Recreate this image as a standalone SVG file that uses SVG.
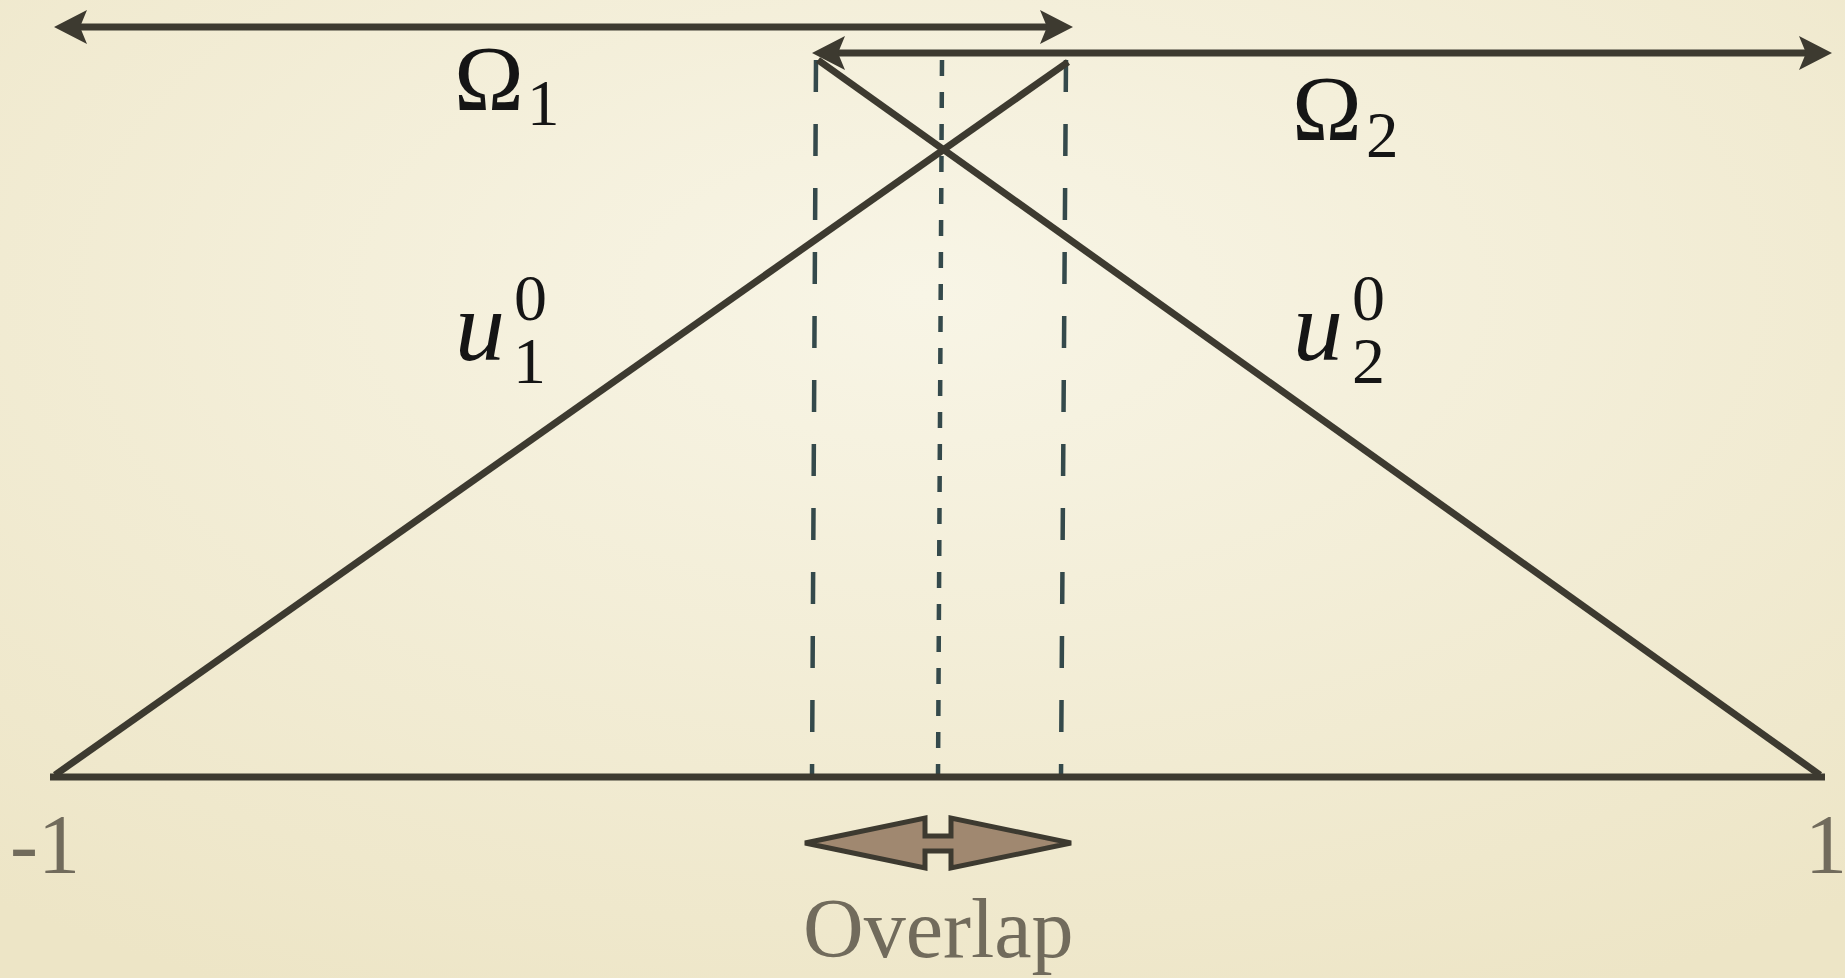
<svg xmlns="http://www.w3.org/2000/svg" width="1845" height="978" viewBox="0 0 1845 978">
<defs>
<radialGradient id="bg" cx="0.5" cy="0.3" r="0.8">
<stop offset="0" stop-color="#f8f5e6"/>
<stop offset="1" stop-color="#ede5c6"/>
</radialGradient>
<marker id="head" markerUnits="userSpaceOnUse" viewBox="-36 -19 38 38" markerWidth="38" markerHeight="38" refX="-22" refY="0" orient="auto-start-reverse">
<path d="M0,0 L-33,-17 L-26,0 L-33,17 Z" fill="#3d3a30"/>
</marker>
<style>
.ln{stroke:#3d3a30;stroke-width:7;fill:none}
.dl{stroke:#34494b;stroke-width:4.5;fill:none;stroke-dasharray:32 32}
.ds{stroke:#34494b;stroke-width:4.5;fill:none;stroke-dasharray:16 16}
.math{font-family:"Liberation Serif","DejaVu Serif",serif;fill:#151515}
.lab{font-family:"Liberation Serif","DejaVu Serif",serif;fill:#716b5c}
</style>
</defs>
<rect width="1845" height="978" fill="url(#bg)"/>
<g id="connectors">
<line class="dl" x1="816" y1="60" x2="812" y2="777"/>
<line class="ds" x1="942" y1="60" x2="938" y2="777"/>
<line class="dl" x1="1066" y1="60" x2="1061" y2="777"/>
<line class="ln" x1="76" y1="27" x2="1051" y2="27" marker-start="url(#head)" marker-end="url(#head)"/>
<line class="ln" x1="834" y1="53" x2="1810" y2="53" marker-start="url(#head)" marker-end="url(#head)"/>
<line class="ln" x1="55" y1="775" x2="1068" y2="62"/>
<line class="ln" x1="818" y1="60" x2="1820" y2="775"/>
<line class="ln" x1="50" y1="777" x2="1825" y2="777"/>
</g>
<g id="omega1"><text class="math" font-size="94" x="454" y="110">Ω<tspan font-size="65" x="527" y="125">1</tspan></text></g>
<g id="omega2"><text class="math" font-size="94" x="1292" y="140">Ω<tspan font-size="65" x="1366" y="157">2</tspan></text></g>
<g id="u1"><text class="math" font-size="100" font-style="italic" x="455" y="360">u<tspan font-style="normal" font-size="66" x="514" y="320">0</tspan><tspan font-style="normal" font-size="66" x="513" y="383">1</tspan></text></g>
<g id="u2"><text class="math" font-size="100" font-style="italic" x="1293" y="360">u<tspan font-style="normal" font-size="66" x="1352" y="320">0</tspan><tspan font-style="normal" font-size="66" x="1352" y="383">2</tspan></text></g>
<g id="minus1"><text class="lab" font-size="84" x="10" y="873">-1</text></g>
<g id="plus1"><text class="lab" font-size="84" x="1805" y="873">1</text></g>
<g id="overlap">
<path d="M805,843 L925,818 L925,836 L951,836 L951,818 L1071,843 L951,868 L951,851 L925,851 L925,868 Z" fill="#a08870" stroke="#3d3a30" stroke-width="5" stroke-linejoin="miter"/>
<text class="lab" font-size="84" x="803" y="957">Overlap</text>
</g>
</svg>
